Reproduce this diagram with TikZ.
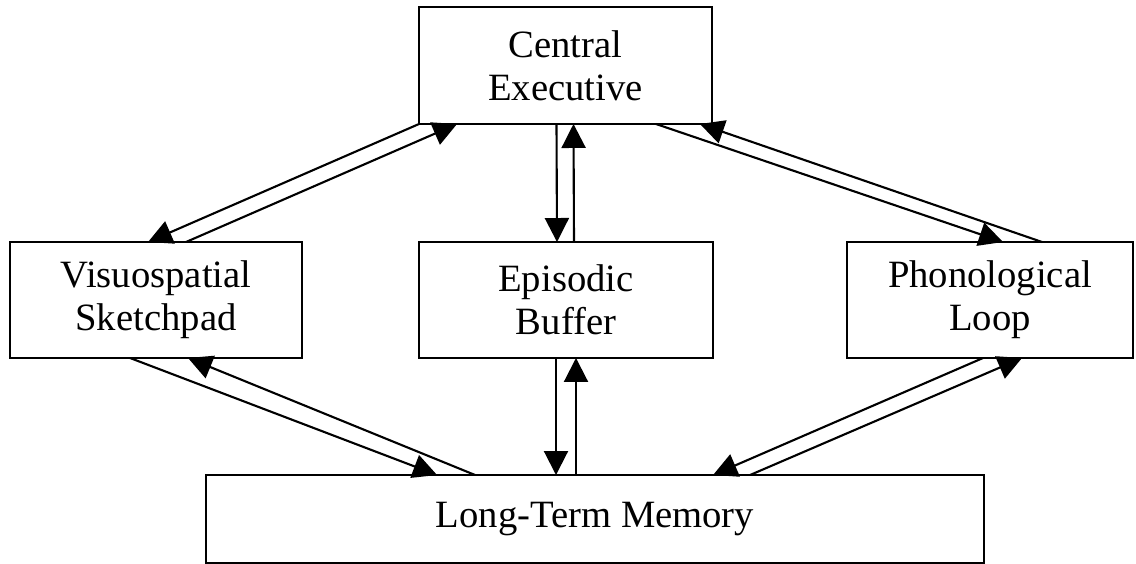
\documentclass[tikz,border=0pt]{standalone}
\usepackage{fontspec}
\setmainfont{Liberation Serif}
\usetikzlibrary{arrows.meta,calc}

\tikzset{
  box/.style={draw, line width=1.2pt, inner sep=0pt, outer sep=0pt, align=center,
    font=\fontsize{22}{24.6}\selectfont},
  arr/.style={draw, line width=1.2pt, -{Triangle[length=0.48cm,width=0.48cm]}}
}

\begin{document}
\begin{tikzpicture}[x=0.02cm,y=-0.02cm]
\useasboundingbox[fill=white] (0,0) rectangle (1136,564);
\node[box, minimum width=5.86cm, minimum height=2.34cm] (ce) at (565.5,65.5) {Central\\Executive};
\node[box, minimum width=5.84cm, minimum height=2.32cm] (vs) at (156,300) {Visuospatial\\Sketchpad};
\node[box, minimum width=5.88cm, minimum height=2.32cm] (eb) at (566,300) {Episodic\\Buffer};
\node[box, minimum width=5.72cm, minimum height=2.32cm] (pl) at (990,300) {Phonological\\Loop};
\node[box, minimum width=15.56cm, minimum height=1.76cm] (ltm) at (595,519) {Long-Term Memory};

\coordinate (ebdown) at ($(eb.south)+(-10,0)$);
\coordinate (ebup) at ($(eb.south)+(10,0)$);

% executive <-> slave systems
\path[arr] (ce.south west) -- ($(vs.north west)+(138,0)$);
\path[arr] ($(vs.north west)+(176,0)$) -- ($(ce.south west)+(38,0)$);
\path[arr] ($(ce.south east)+(-56,0)$) -- ($(pl.north west)+(156,0)$);
\path[arr] ($(pl.north west)+(195,0)$) -- ($(ce.south east)+(-12,0)$);
\path[arr] ($(ce.south)+(-9,0)$) -- ($(eb.north)+(-9,0)$);
\path[arr] ($(eb.north)+(8,0)$) -- ($(ce.south)+(8,0)$);

% slave systems <-> long-term memory
\path[arr] ($(vs.south west)+(120,0)$) -- ($(ltm.north west)+(231,0)$);
\path[arr] ($(ltm.north west)+(269,0)$) -- ($(vs.south west)+(178,0)$);
\path[arr] (ebdown) -- (ebdown |- ltm.north);
\path[arr] (ebup |- ltm.north) -- (ebup);
\path[arr] ($(pl.south west)+(136,0)$) -- ($(ltm.north west)+(507,0)$);
\path[arr] ($(ltm.north west)+(544,0)$) -- ($(pl.south west)+(175,0)$);
\end{tikzpicture}
\end{document}
